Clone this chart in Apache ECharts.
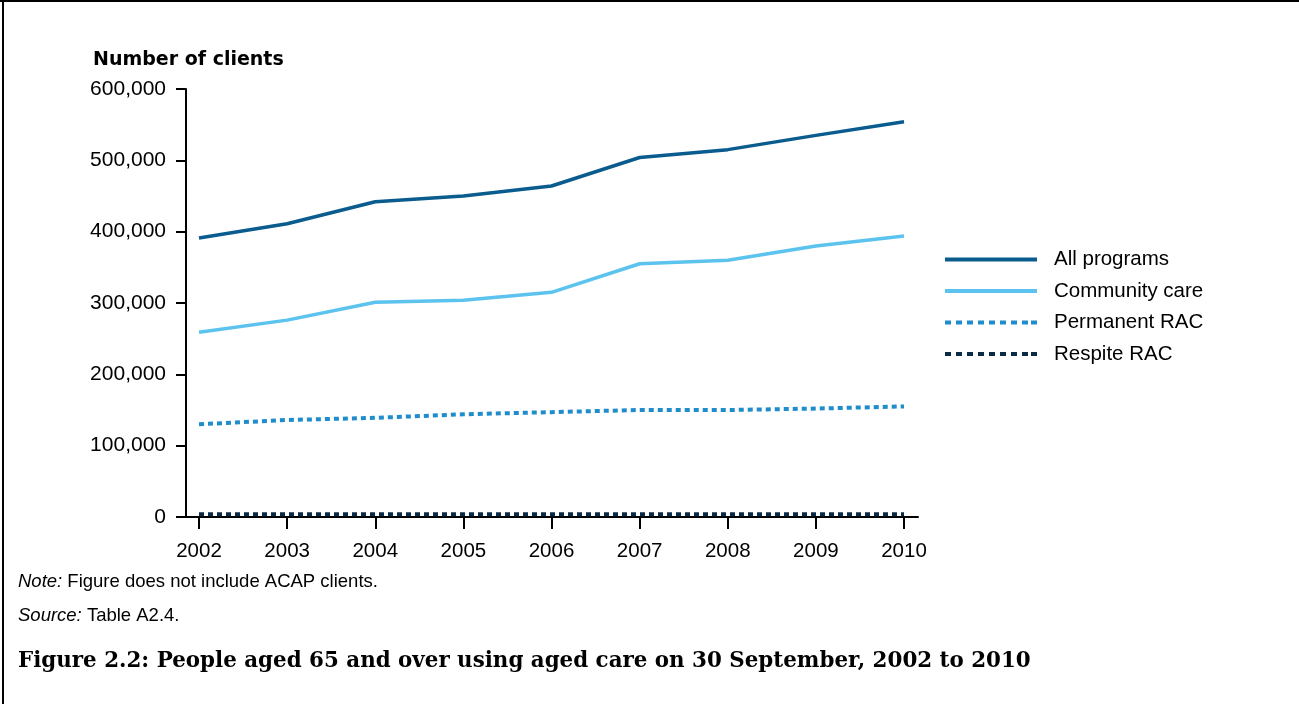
<!DOCTYPE html>
<html>
<head>
<meta charset="utf-8">
<script src="https://cdn.jsdelivr.net/npm/echarts@6/dist/echarts.min.js"></script>
<style>html,body{margin:0;padding:0;background:#fff;}#c{width:1299px;height:704px;}</style>
</head>
<body>
<div id="c"></div>
<script>
var years = [2002, 2003, 2004, 2005, 2006, 2007, 2008, 2009, 2010];
var allPrograms = [391000, 411000, 442000, 450000, 464000, 504000, 515000, 535000, 554000];
var communityCare = [259000, 276000, 301000, 304000, 315000, 355000, 360000, 380000, 394000];
var permanentRAC = [130000, 136000, 139000, 144000, 147000, 150000, 150000, 152000, 155000];
var respiteRAC = [3800, 3800, 3900, 3900, 3900, 4000, 4000, 4000, 4000];
var seriesNames = ['All programs', 'Community care', 'Permanent RAC', 'Respite RAC'];

function pairs(vals) { return years.map(function (y, i) { return [y, vals[i]]; }); }

var solidIcon = 'path://M0,0h92v4h-92z';
var dotIcon = 'path://M0,0h6v4h-6z M11,0h6v4h-6z M22,0h6v4h-6z M33,0h6v4h-6z M44,0h6v4h-6z M55,0h6v4h-6z M66,0h6v4h-6z M77,0h6v4h-6z M86,0h6v4h-6z';

var chart = echarts.init(document.getElementById('c'));
var font = 'Liberation Sans, Arial, sans-serif';
var option = {
  backgroundColor: '#ffffff',
  animation: false,
  grid: { left: 186, right: 381, top: 89, bottom: 187, containLabel: false },
  xAxis: {
    type: 'value',
    min: 2002 - 13 / 88.125,
    max: 2010 + 14 / 88.125,
    splitLine: { show: false },
    axisLine: { show: true, lineStyle: { color: '#000', width: 2 } },
    axisTick: { show: true, customValues: years, length: 12, lineStyle: { color: '#000', width: 2 } },
    axisLabel: { customValues: years, color: '#000', fontSize: 20.5, fontFamily: font, margin: 24, formatter: function (v) { return String(v); } }
  },
  yAxis: {
    type: 'value',
    min: 0, max: 600000, interval: 100000,
    splitLine: { show: false },
    axisLine: { show: true, lineStyle: { color: '#000', width: 2 } },
    axisTick: { show: true, length: 10, lineStyle: { color: '#000', width: 2 } },
    axisLabel: { color: '#000', fontSize: 21, fontFamily: font, margin: 20,
      formatter: function (v) { return v.toLocaleString('en-US'); } }
  },
  legend: {
    orient: 'vertical', left: 940, top: 244,
    itemWidth: 92, itemHeight: 4, itemGap: 10.5,
    textStyle: { color: '#000', fontSize: 20.5, fontFamily: font, padding: [0, 0, 0, 12] },
    data: [
      { name: seriesNames[0], icon: solidIcon },
      { name: seriesNames[1], icon: solidIcon },
      { name: seriesNames[2], icon: dotIcon },
      { name: seriesNames[3], icon: dotIcon }
    ]
  },
  series: [
    { name: seriesNames[0], type: 'line', data: pairs(allPrograms), symbol: 'none', color: '#0a5c8e',
      lineStyle: { color: '#0a5c8e', width: 3.5 } },
    { name: seriesNames[1], type: 'line', data: pairs(communityCare), symbol: 'none', color: '#5cc3ee',
      lineStyle: { color: '#5cc3ee', width: 3.5 } },
    { name: seriesNames[2], type: 'line', data: pairs(permanentRAC), symbol: 'none', color: '#1f8ccb',
      lineStyle: { color: '#1f8ccb', width: 4, type: [5, 4] } },
    { name: seriesNames[3], type: 'line', data: pairs(respiteRAC), symbol: 'none', color: '#0b2a44',
      lineStyle: { color: '#0b2a44', width: 4, type: [5, 4] } }
  ],
  graphic: [
    { type: 'line', shape: { x1: 0, y1: 1, x2: 1299, y2: 1 }, style: { stroke: '#000', lineWidth: 2 } },
    { type: 'line', shape: { x1: 3, y1: 0, x2: 3, y2: 704 }, style: { stroke: '#000', lineWidth: 2 } },
    { type: 'text', left: 93, top: 51, style: { text: 'Number of clients', fill: '#000', font: 'bold 19px "DejaVu Sans", sans-serif' } },
    { type: 'text', left: 18, top: 572, style: {
      text: '{i|Note:} Figure does not include ACAP clients.',
      rich: { i: { fontStyle: 'italic', fontSize: 18.5, fontFamily: font, fill: '#000' } },
      fontSize: 18.5, fontFamily: font, fill: '#000' } },
    { type: 'text', left: 18, top: 606, style: {
      text: '{i|Source:} Table A2.4.',
      rich: { i: { fontStyle: 'italic', fontSize: 18.5, fontFamily: font, fill: '#000' } },
      fontSize: 18.5, fontFamily: font, fill: '#000' } },
    { type: 'text', left: 18, top: 651, style: { text: 'Figure 2.2: People aged 65 and over using aged care on 30 September, 2002 to 2010',
      fill: '#000', font: 'bold 21.4px "DejaVu Serif", "Liberation Serif", serif' } }
  ]
};
chart.setOption(option);
</script>
</body>
</html>
